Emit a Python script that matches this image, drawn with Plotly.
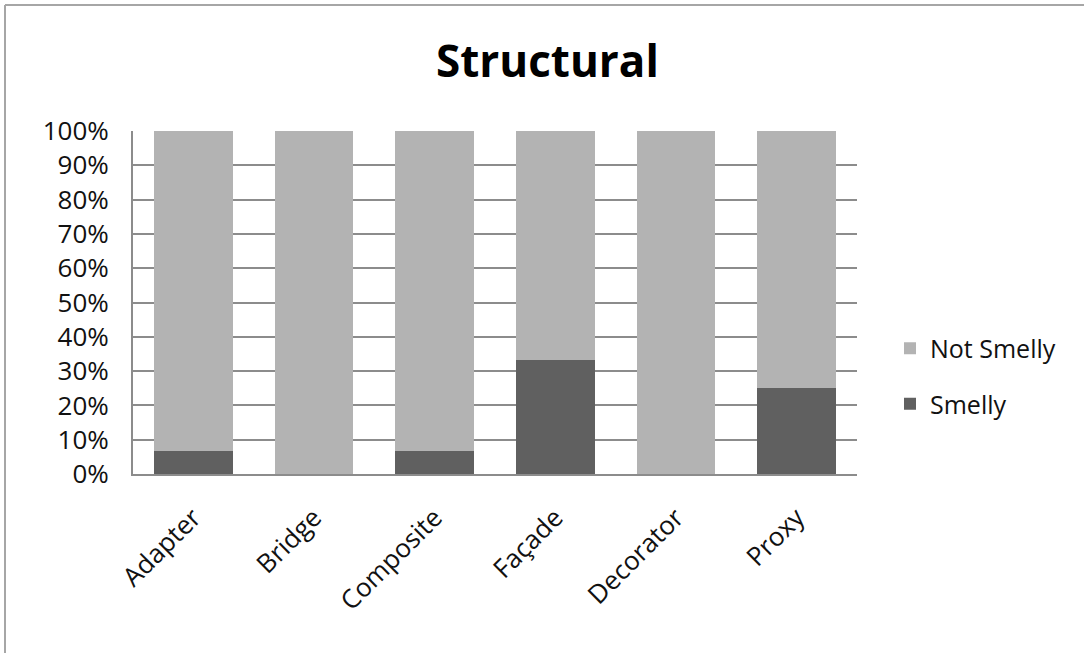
import plotly.graph_objects as go

# Structural design patterns: share of smelly vs. not smelly instances (%)
patterns = ["Adapter", "Bridge", "Composite", "Façade", "Decorator", "Proxy"]
smelly = [6.7, 0.0, 6.7, 33.3, 0.0, 25.0]
not_smelly = [100 - v for v in smelly]
y_ticks = list(range(0, 101, 10))
y_tick_labels = [f"{t}%" for t in y_ticks]

FONT = "Open Sans"
W, H = 1084, 653
L, R, T, B = 133, 227, 131, 179
plot_w = W - L - R
plot_h = H - T - B

fig = go.Figure()
fig.add_trace(go.Bar(
    x=patterns, y=smelly, name="Smelly", legendgroup="s", legendrank=2,
    marker=dict(color="#606060", line=dict(width=0)),
))
fig.add_trace(go.Bar(
    x=patterns, y=not_smelly, name="Not Smelly", legendgroup="n", legendrank=1,
    marker=dict(color="#b3b3b3", line=dict(width=0)),
))

# outer chart frame: top and left edges
frame_x = (5 - L) / plot_w
frame_y = (H - B - 5) / plot_h
frame_line = dict(color="#a6a6a6", width=2)
fig.add_shape(type="line", xref="paper", yref="paper",
              x0=frame_x, x1=3.0, y0=frame_y, y1=frame_y, line=frame_line)
fig.add_shape(type="line", xref="paper", yref="paper",
              x0=frame_x, x1=frame_x, y0=-3.0, y1=frame_y, line=frame_line)

fig.update_layout(
    width=W, height=H,
    margin=dict(l=L, r=R, t=T, b=B, pad=0),
    paper_bgcolor="white", plot_bgcolor="white",
    barmode="stack", bargap=0.35,
    font=dict(family=FONT, size=26, color="#111111"),
    title=dict(
        text="<b>Structural</b>", x=0.505, xanchor="center",
        yref="container", y=1 - 62 / H, yanchor="middle",
        font=dict(family=FONT, size=44, color="#000000"),
    ),
    legend=dict(
        x=(890 - L) / plot_w, xanchor="left",
        y=(H - B - 376) / plot_h, yanchor="middle",
        traceorder="grouped", tracegroupgap=20,
        font=dict(family=FONT, size=25, color="#111111"),
        bgcolor="rgba(0,0,0,0)", itemclick=False,
    ),
    showlegend=True,
)

fig.update_xaxes(
    tickangle=-45, showgrid=False, zeroline=False,
    showline=True, linecolor="#8c8c8c", linewidth=2,
    ticks="", ticklabelstandoff=16,
    tickfont=dict(family=FONT, size=26, color="#111111"),
)
fig.update_yaxes(
    range=[0, 100], tickvals=y_ticks, ticktext=y_tick_labels,
    showgrid=True, gridcolor="#8c8c8c", gridwidth=2,
    zeroline=False, showline=True, linecolor="#8c8c8c", linewidth=2,
    ticks="", ticklabelstandoff=17,
    tickfont=dict(family=FONT, size=26, color="#111111"),
)

fig.write_html("out.html")
